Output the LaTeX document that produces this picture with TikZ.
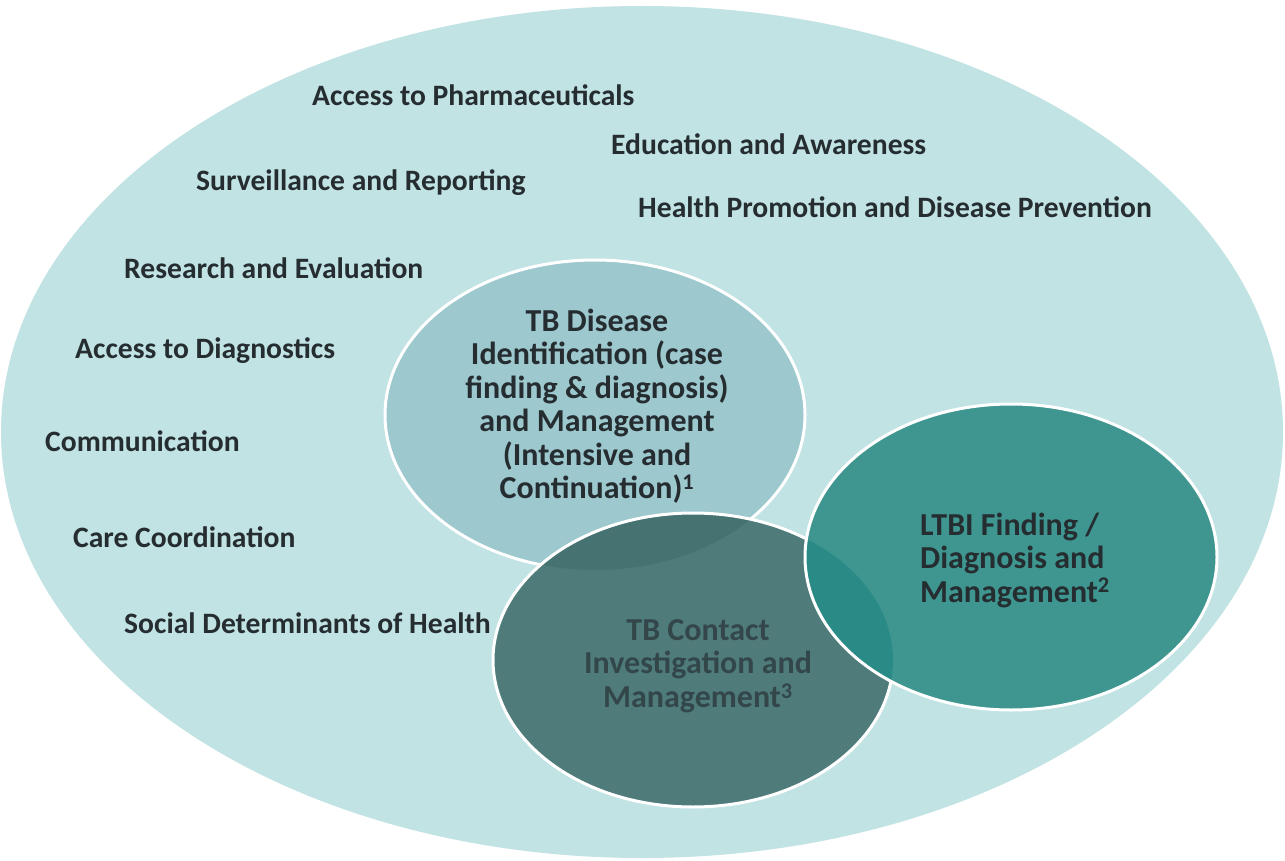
\documentclass[tikz,border=0pt]{standalone}
\usepackage{fontspec}
\setmainfont{Carlito}
\definecolor{outerc}{HTML}{C1E3E3}
\definecolor{diseasec}{HTML}{9CC8CE}
\definecolor{contactc}{HTML}{4F7B7B}
\definecolor{ltbic}{HTML}{3F9690}
\definecolor{dcov}{HTML}{477272}
\definecolor{clov}{HTML}{2A8A86}
\definecolor{txt}{HTML}{252D31}
\definecolor{ctxt}{HTML}{33474A}
\begin{document}
\begin{tikzpicture}[x=1pt,y=-1pt,
  lab/.style={font=\bfseries\fontsize{29.6}{34}\selectfont, text=txt, anchor=west, inner sep=0pt},
  ctext/.style={font=\bfseries\fontsize{32}{33.5}\selectfont, align=center, inner sep=0pt},
  rim/.style={draw=white, line width=3pt}]
\useasboundingbox (0,0) rectangle (1285,861);
\fill[white] (0,0) rectangle (1285,861);
% outer ellipse
\fill[outerc] (642,432) ellipse [x radius=641pt, y radius=426pt];
% TB disease
\fill[diseasec] (595,415) ellipse [x radius=210pt, y radius=155pt];
\draw[rim] (595,415) ellipse [x radius=210pt, y radius=155pt];
% TB contact
\fill[contactc] (693,660) ellipse [x radius=200pt, y radius=147pt];
\begin{scope}
  \clip (595,415) ellipse [x radius=210pt, y radius=155pt];
  \fill[dcov] (693,660) ellipse [x radius=200pt, y radius=147pt];
\end{scope}
\draw[rim] (693,660) ellipse [x radius=200pt, y radius=147pt];
% LTBI
\fill[ltbic] (1011,557) ellipse [x radius=206pt, y radius=153pt];
\begin{scope}
  \clip (693,660) ellipse [x radius=200pt, y radius=147pt];
  \fill[clov] (1011,557) ellipse [x radius=206pt, y radius=153pt];
\end{scope}
\draw[rim] (1011,557) ellipse [x radius=206pt, y radius=153pt];
% outer labels
\node[lab] (pharm) at (312,95) {Access to Pharmaceuticals};
\node[lab] (edu) at (611,144) {Education and Awareness};
\node[lab] (surv) at (196,183) {Surveillance and Reporting};
\node[lab] (hp) at (638,207) {Health Promotion and Disease Prevention};
\node[lab] (res) at (124,268) {Research and Evaluation};
\node[lab] (diag) at (75,351) {Access to Diagnostics};
\node[lab] (comm) at (45,441) {Communication};
\node[lab] (care) at (73,537) {Care Coordination};
\node[lab] (sdh) at (124,623) {Social Determinants of Health};
% circle texts
\node[ctext, text=txt] (disease) at (597,406) {TB Disease\\Identification (case\\finding \& diagnosis)\\and Management\\(Intensive and\\Continuation)\textsuperscript{1}};
\node[ctext, text=ctxt] (contact) at (698,666) {TB Contact\\Investigation and\\Management\textsuperscript{3}};
\node[ctext, text=txt, align=left, anchor=west] (ltbi) at (920,560) {LTBI Finding /\\Diagnosis and\\Management\textsuperscript{2}};
\end{tikzpicture}
\end{document}
